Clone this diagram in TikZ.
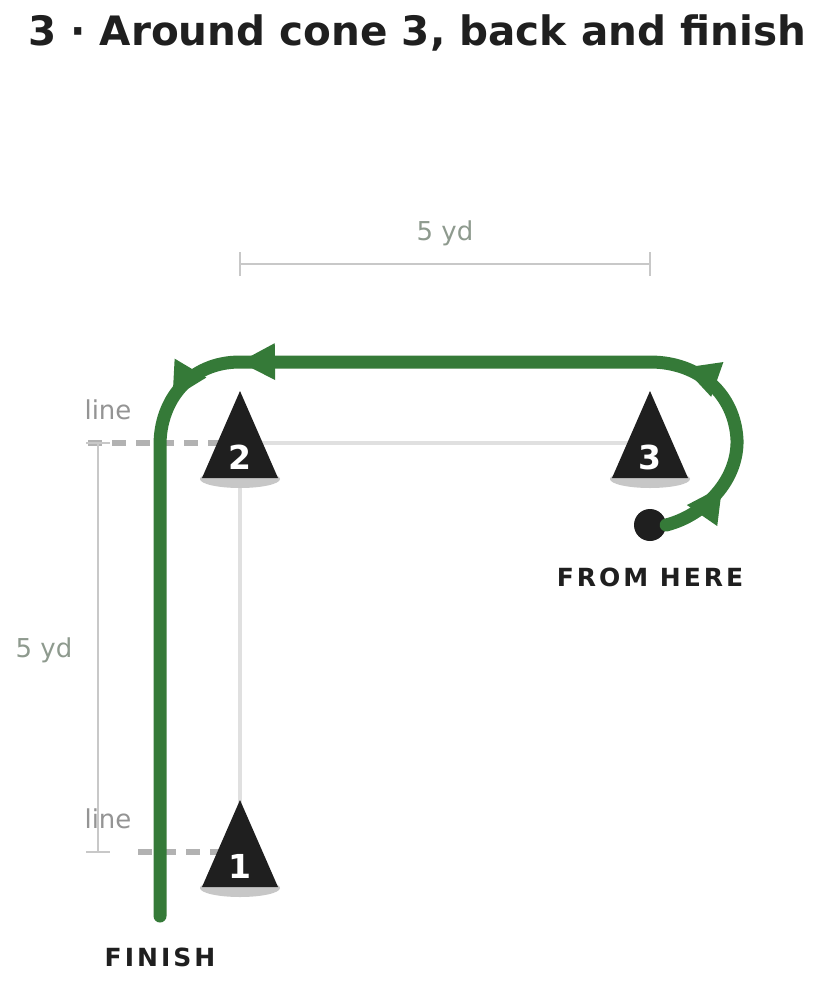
\documentclass[tikz,border=0pt]{standalone}
\usepackage{fontspec}
\setmainfont{DejaVu Sans}
\usetikzlibrary{arrows.meta,decorations.markings}
\definecolor{grn}{HTML}{357A38}
\definecolor{ink}{HTML}{1F1F1F}
\definecolor{dim}{HTML}{C8C8C8}
\definecolor{dimtxt}{HTML}{8E9A8E}
\begin{document}
\begin{tikzpicture}[x=1pt,y=-1pt,
  cone/.style={fill=ink},
  num/.style={text=white,font=\bfseries\fontsize{33}{33}\selectfont},
  dimline/.style={draw=dim,line width=2.5},
  guide/.style={draw=ink!14,line width=4},
  dashl/.style={draw=black!30,line width=6,dash pattern=on 14 off 10},
  lbl/.style={font=\fontsize{26}{26}\selectfont},
  caplbl/.style={font=\bfseries\fontsize{25}{25}\selectfont,text=ink}]
\useasboundingbox (0,0) rectangle (835,982);
\node[font=\bfseries\fontsize{40.5}{40.5}\selectfont,text=ink] (title) at (417,33) {3 · Around cone 3, back and finish};
% guides
\coordinate (c1) at (240,852); \coordinate (c2) at (240,443); \coordinate (c3) at (650,443);
\draw[guide] (c2) -- (c3); \draw[guide] (c2) -- (c1);
\coordinate (d1a) at (88,443); \coordinate (d1b) at (220,443);
\coordinate (d2a) at (138,852); \coordinate (d2b) at (220,852);
\draw[dashl] (d1a) -- (d1b); \draw[dashl] (d2a) -- (d2b);
% dimensions
\coordinate (t1) at (240,264); \coordinate (t2) at (650,264);
\draw[dimline] (t1) -- (t2); \draw[dimline] (240,252) -- (240,276); \draw[dimline] (650,252) -- (650,276);
\node[lbl,text=dimtxt] (tl) at (445,233) {5 yd};
\coordinate (l1) at (98,443); \coordinate (l2) at (98,852);
\draw[dimline] (l1) -- (l2); \draw[dimline] (86,443) -- (110,443); \draw[dimline] (86,852) -- (110,852);
\node[lbl,text=dimtxt] (ll) at (44,650) {5 yd};
\node[lbl,text=black!42] (line1) at (108,410) {line};
\node[lbl,text=black!42] (line2) at (108,819) {line};
% cones
\foreach \x/\y/\n in {240/479/2, 650/479/3, 240/888/1}{
  \fill[black!22] (\x,\y) ellipse (40 and 9);
  \fill[cone] (\x-38,\y-1) -- (\x,\y-88) -- (\x+38,\y-1) -- cycle;
  \node[num] at (\x,\y-22) {\n};
}
% path
\node[circle,fill=ink,minimum size=32,inner sep=0] (start) at (650,525) {};
\coordinate (fin) at (160,916);
\draw[grn,line width=13,line cap=round,
  postaction={decorate},
  decoration={markings,
   mark=at position 70pt with {\arrow[grn]{Triangle[length=36pt,width=34pt]}},
   mark=at position 215pt with {\arrow[grn]{Triangle[length=36pt,width=34pt]}},
   mark=at position 660pt with {\arrow[grn]{Triangle[length=36pt,width=34pt]}},
   mark=at position 740pt with {\arrow[grn]{Triangle[length=36pt,width=34pt]}}}]
  (start.east) .. controls (705,515) and (738,480) .. (737,440)
  .. controls (735,395) and (700,362) .. (650,362) -- (240,362)
  .. controls (190,362) and (160,400) .. (160,445) -- (fin);
\node[caplbl] (fh) at (650,577) {\addfontfeature{LetterSpace=12}FROM HERE};
\node[caplbl] (fn) at (160,957) {\addfontfeature{LetterSpace=12}FINISH};
\end{tikzpicture}
\end{document}
